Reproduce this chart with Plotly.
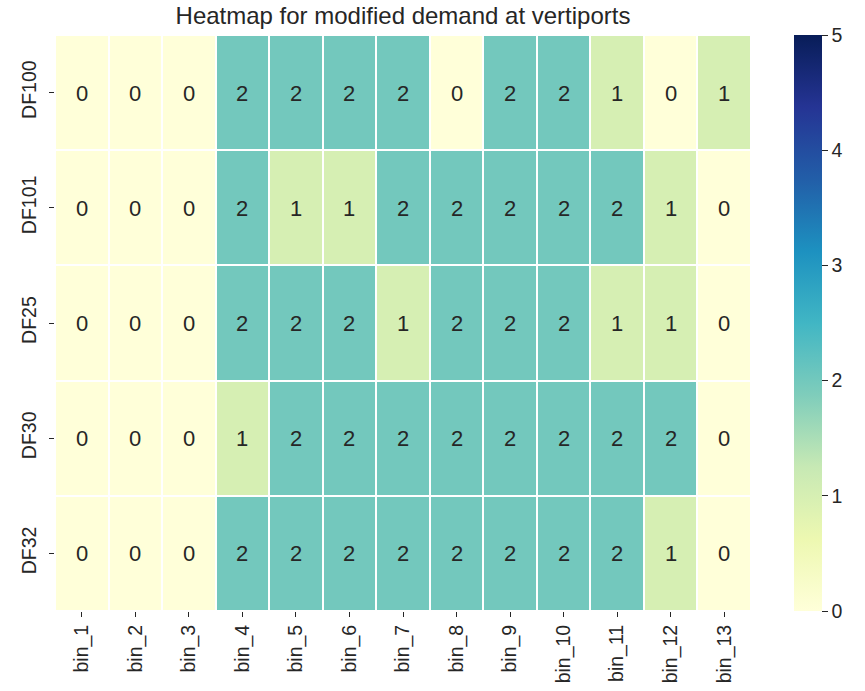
import plotly.graph_objects as go

bins = [f"bin_{i}" for i in range(1, 14)]
ports = ["DF100", "DF101", "DF25", "DF30", "DF32"]
df100 = [0, 0, 0, 2, 2, 2, 2, 0, 2, 2, 1, 0, 1]
df101 = [0, 0, 0, 2, 1, 1, 2, 2, 2, 2, 2, 1, 0]
df25 = [0, 0, 0, 2, 2, 2, 1, 2, 2, 2, 1, 1, 0]
df30 = [0, 0, 0, 1, 2, 2, 2, 2, 2, 2, 2, 2, 0]
df32 = [0, 0, 0, 2, 2, 2, 2, 2, 2, 2, 2, 1, 0]
z = [df100, df101, df25, df30, df32]

ylgnbu = ["#ffffd9", "#edf8b1", "#c7e9b4", "#7fcdbb", "#41b6c4",
          "#1d91c0", "#225ea8", "#253494", "#081d58"]
cscale = [[i / 8, c] for i, c in enumerate(ylgnbu)]

W, H = 865, 691
pw, ph = 696, 576
ml, mt = 55, 35
mr, mb = W - ml - pw, H - mt - ph
FONT = "Liberation Sans, Arial"
TXT = "#262626"

fig = go.Figure(go.Heatmap(
    z=z, x=bins, y=ports,
    zmin=0, zmax=5, colorscale=cscale,
    xgap=2, ygap=2,
    texttemplate="%{z}",
    textfont=dict(size=22, color=TXT, family=FONT),
    hoverinfo="skip",
    colorbar=dict(
        x=(794 - ml) / pw, xanchor="left", xref="paper",
        y=0.5, yanchor="middle", len=1, lenmode="fraction",
        thickness=28, outlinewidth=0, xpad=0, ypad=0,
        tickvals=[0, 1, 2, 3, 4, 5], ticks="outside", ticklen=6,
        tickcolor=TXT, tickwidth=1.3,
        tickfont=dict(size=19.5, color=TXT, family=FONT),
    ),
))

fig.update_layout(
    width=W, height=H,
    margin=dict(l=ml, r=mr, t=mt, b=mb, autoexpand=False),
    paper_bgcolor="white", plot_bgcolor="white",
    font=dict(family=FONT, color=TXT),
    title=dict(text="Heatmap for modified demand at vertiports",
               x=0.5, xref="paper", xanchor="center",
               y=1 - 16 / H, yref="container", yanchor="middle",
               font=dict(size=24, color=TXT)),
    xaxis=dict(tickangle=-90, ticks="outside", ticklen=5, tickwidth=1.3,
               tickcolor=TXT, tickfont=dict(size=19.5), automargin=False,
               showgrid=False, zeroline=False, showline=False),
    yaxis=dict(autorange="reversed", tickangle=-90, ticks="outside", ticklen=5,
               tickwidth=1.3, tickcolor=TXT, tickfont=dict(size=19.5),
               ticklabelstandoff=5, automargin=False,
               showgrid=False, zeroline=False, showline=False),
)

fig.write_html("out.html",
               config={"displayModeBar": False},
               post_script="document.body.style.margin='0';")
